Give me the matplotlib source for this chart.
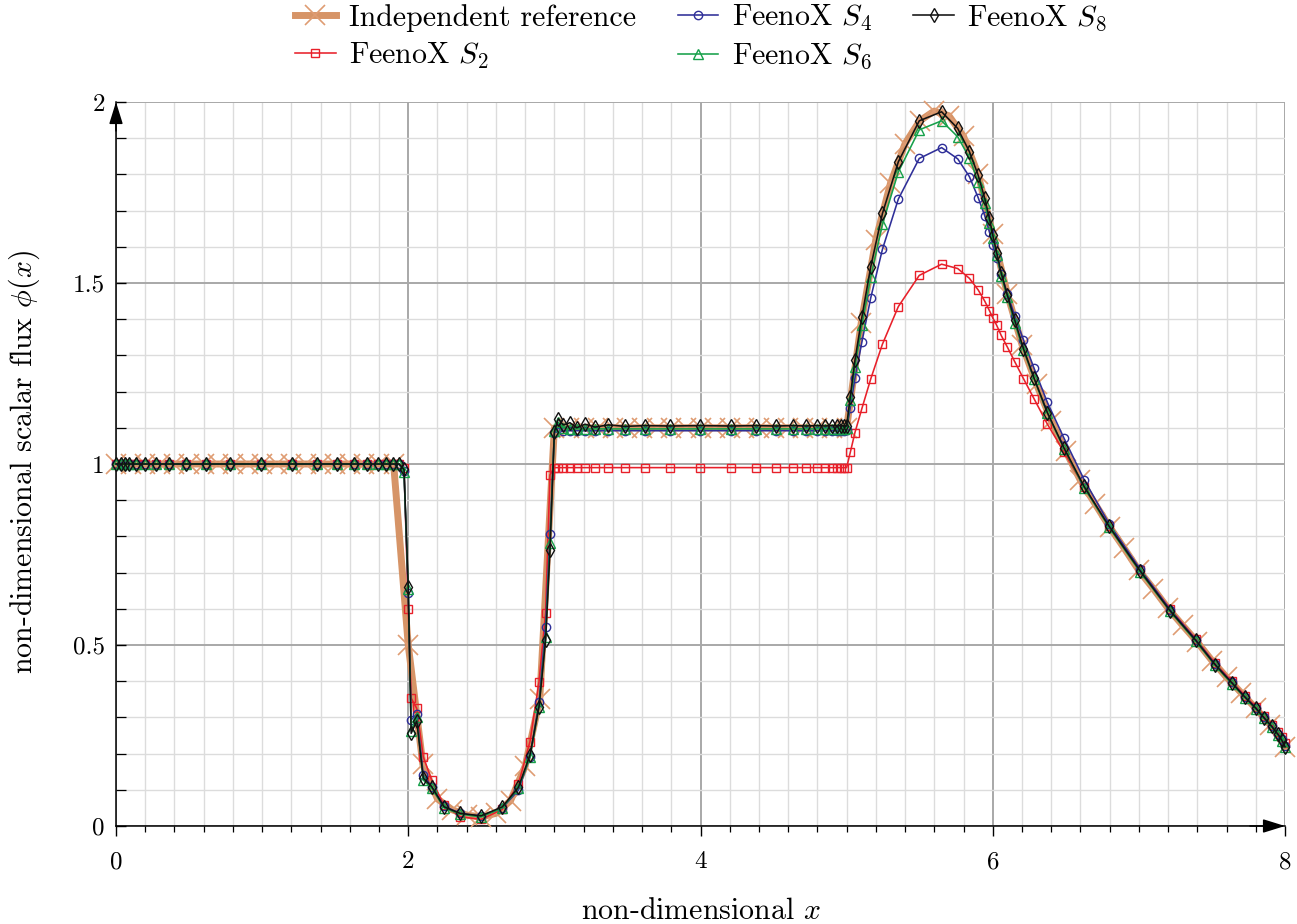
import matplotlib
matplotlib.use("Agg")
import matplotlib.pyplot as plt
from matplotlib.ticker import MultipleLocator, FuncFormatter


REF_COLOR = '#d69467'
REF_MARKER_COLOR = '#df9c73'
S2_COLOR = '#e8202a'
S4_COLOR = '#2e2e98'
S6_COLOR = '#16a04a'
S8_COLOR = '#111111'
MAJOR_GRID = '#a8a8a8'
MINOR_GRID = '#dcdcdc'

# independent reference, sampled every 0.1
ref_x = [0.0, 0.1, 0.2, 0.3, 0.4, 0.5, 0.6, 0.7, 0.8, 0.9,
         1.0, 1.1, 1.2, 1.3, 1.4, 1.5, 1.6, 1.7, 1.8, 1.9,
         2.0, 2.1, 2.2, 2.3, 2.4, 2.5, 2.6, 2.7, 2.8, 2.9,
         3.0, 3.1, 3.2, 3.3, 3.4, 3.5, 3.6, 3.7, 3.8, 3.9,
         4.0, 4.1, 4.2, 4.3, 4.4, 4.5, 4.6, 4.7, 4.8, 4.9,
         5.0, 5.1, 5.2, 5.3, 5.4, 5.5, 5.6, 5.7, 5.8, 5.9,
         6.0, 6.1, 6.2, 6.3, 6.4, 6.5, 6.6, 6.7, 6.8, 6.9,
         7.0, 7.1, 7.2, 7.3, 7.4, 7.5, 7.6, 7.7, 7.8, 7.9, 8.0]
ref_phi = [1.0, 1.0, 1.0, 1.0, 1.0, 1.0, 1.0, 1.0, 1.0, 1.0,
           1.0, 1.0, 1.0, 1.0, 1.0, 1.0, 1.0, 1.0, 1.0, 1.0,
           0.50, 0.17, 0.075, 0.045, 0.03, 0.025, 0.035, 0.07, 0.165, 0.35,
           1.10, 1.10, 1.10, 1.10, 1.10, 1.10, 1.10, 1.10, 1.10, 1.10,
           1.10, 1.10, 1.10, 1.10, 1.10, 1.10, 1.10, 1.10, 1.10, 1.10,
           1.10, 1.39, 1.62, 1.775, 1.885, 1.948, 1.975, 1.962, 1.905, 1.80,
           1.635, 1.47, 1.33, 1.22, 1.12, 1.035, 0.955, 0.89, 0.826, 0.767,
           0.706, 0.655, 0.601, 0.554, 0.508, 0.457, 0.411, 0.368, 0.325, 0.279, 0.219]

# FeenoX mesh nodes
feenox_x = [0.000, 0.032, 0.062, 0.091, 0.137, 0.198, 0.274, 0.362, 0.477, 0.614,
            0.780, 0.993, 1.202, 1.373, 1.514, 1.629, 1.715, 1.791, 1.848, 1.898,
            1.937, 1.971, 2.000,
            2.020, 2.058, 2.103, 2.160, 2.245, 2.354, 2.498, 2.644, 2.754, 2.833,
            2.895, 2.940, 2.970, 3.000,
            3.027, 3.061, 3.107, 3.153, 3.210, 3.278, 3.369, 3.483, 3.620, 3.790,
            3.997, 4.207, 4.380, 4.517, 4.631, 4.722, 4.795, 4.852, 4.898, 4.932,
            4.960, 4.985, 5.000,
            5.025, 5.057, 5.105, 5.165, 5.245, 5.354, 5.497, 5.650, 5.760, 5.840,
            5.900, 5.945, 5.977, 6.000,
            6.027, 6.058, 6.100, 6.150, 6.210, 6.283, 6.374, 6.488, 6.625, 6.796,
            7.008, 7.213, 7.389, 7.521, 7.635, 7.726, 7.799, 7.856, 7.909, 7.950,
            7.977, 8.000]

phi_s2 = [1.0, 1.0, 1.0, 1.0, 1.0, 1.0, 1.0, 1.0, 1.0, 1.0,
          1.0, 1.0, 1.0, 1.0, 1.0, 1.0, 1.0, 1.0, 1.0, 1.0,
          1.0, 0.99, 0.60,
          0.353, 0.325, 0.191, 0.127, 0.058, 0.026, 0.018, 0.046, 0.116, 0.233,
          0.399, 0.589, 0.97, 0.99,
          0.99, 0.99, 0.99, 0.99, 0.99, 0.99, 0.99, 0.99, 0.99, 0.99,
          0.99, 0.99, 0.99, 0.99, 0.99, 0.99, 0.99, 0.99, 0.99, 0.99,
          0.99, 0.99, 0.99,
          1.032, 1.087, 1.154, 1.235, 1.331, 1.435, 1.521, 1.552, 1.540, 1.513,
          1.481, 1.450, 1.424, 1.404,
          1.383, 1.355, 1.323, 1.283, 1.236, 1.180, 1.110, 1.033, 0.937, 0.828,
          0.708, 0.600, 0.517, 0.450, 0.400, 0.360, 0.330, 0.304, 0.280, 0.260,
          0.245, 0.228]

phi_s4 = [1.0, 1.0, 1.0, 1.0, 1.0, 1.0, 1.0, 1.0, 1.0, 1.0,
          1.0, 1.0, 1.0, 1.0, 1.0, 1.0, 1.0, 1.0, 1.0, 1.0,
          1.0, 0.98, 0.643,
          0.293, 0.309, 0.141, 0.109, 0.055, 0.035, 0.027, 0.050, 0.099, 0.191,
          0.343, 0.551, 0.806, 1.085,
          1.100, 1.092, 1.092, 1.092, 1.092, 1.092, 1.092, 1.092, 1.092, 1.092,
          1.092, 1.092, 1.092, 1.092, 1.092, 1.092, 1.092, 1.092, 1.092, 1.092,
          1.092, 1.092, 1.095,
          1.156, 1.237, 1.338, 1.459, 1.593, 1.732, 1.844, 1.874, 1.843, 1.794,
          1.736, 1.686, 1.642, 1.605,
          1.570, 1.525, 1.470, 1.410, 1.343, 1.264, 1.170, 1.071, 0.957, 0.835,
          0.710, 0.598, 0.515, 0.447, 0.397, 0.357, 0.327, 0.300, 0.276, 0.255,
          0.239, 0.220]

phi_s6 = [1.0, 1.0, 1.0, 1.0, 1.0, 1.0, 1.0, 1.0, 1.0, 1.0,
          1.0, 1.0, 1.0, 1.0, 1.0, 1.0, 1.0, 1.0, 1.0, 1.0,
          1.0, 0.979, 0.655,
          0.263, 0.302, 0.127, 0.105, 0.050, 0.033, 0.025, 0.050, 0.105, 0.190,
          0.330, 0.521, 0.781, 1.090,
          1.115, 1.100, 1.097, 1.097, 1.097, 1.097, 1.097, 1.097, 1.097, 1.097,
          1.097, 1.097, 1.097, 1.097, 1.097, 1.097, 1.097, 1.097, 1.097, 1.097,
          1.097, 1.097, 1.100,
          1.177, 1.269, 1.384, 1.517, 1.662, 1.807, 1.923, 1.948, 1.904, 1.846,
          1.780, 1.720, 1.665, 1.623,
          1.577, 1.520, 1.460, 1.390, 1.315, 1.235, 1.140, 1.042, 0.935, 0.825,
          0.702, 0.593, 0.510, 0.444, 0.393, 0.354, 0.323, 0.297, 0.273, 0.252,
          0.236, 0.217]

phi_s8 = [1.0, 1.0, 1.0, 1.0, 1.0, 1.0, 1.0, 1.0, 1.0, 1.0,
          1.0, 1.0, 1.0, 1.0, 1.0, 1.0, 1.0, 1.0, 1.0, 1.0,
          1.0, 0.985, 0.661,
          0.256, 0.290, 0.132, 0.109, 0.053, 0.035, 0.028, 0.053, 0.107, 0.196,
          0.330, 0.514, 0.762, 1.089,
          1.125, 1.108, 1.114, 1.100, 1.110, 1.102, 1.108, 1.104, 1.106, 1.105,
          1.106, 1.105, 1.106, 1.105, 1.106, 1.105, 1.106, 1.105, 1.106, 1.105,
          1.106, 1.105, 1.105,
          1.186, 1.287, 1.407, 1.545, 1.692, 1.835, 1.948, 1.973, 1.927, 1.863,
          1.798, 1.734, 1.679, 1.633,
          1.584, 1.528, 1.466, 1.398, 1.319, 1.237, 1.142, 1.044, 0.938, 0.828,
          0.705, 0.595, 0.513, 0.446, 0.396, 0.356, 0.326, 0.299, 0.275, 0.254,
          0.238, 0.219]

FEENOX_SERIES = (
    (r'FeenoX $S_2$', phi_s2, S2_COLOR, 's', 6.0),
    (r'FeenoX $S_4$', phi_s4, S4_COLOR, 'o', 6.0),
    (r'FeenoX $S_6$', phi_s6, S6_COLOR, '^', 7.0),
    (r'FeenoX $S_8$', phi_s8, S8_COLOR, 'd', 7.5),
)

plt.rcParams['font.family'] = 'serif'
plt.rcParams['font.serif'] = ['cmr10']
plt.rcParams['mathtext.fontset'] = 'cm'
plt.rcParams['axes.unicode_minus'] = False
plt.rcParams['axes.formatter.use_mathtext'] = True

fig = plt.figure(figsize=(12.97, 9.24), dpi=100)
ax = fig.add_axes([116 / 1297, 98 / 924, 1169 / 1297, 724 / 924])

ax.plot(ref_x, ref_phi, color=REF_COLOR, linewidth=5.0, marker='x', markersize=15,
        markeredgewidth=1.2, markeredgecolor=REF_MARKER_COLOR,
        label='Independent reference', clip_on=False, zorder=3)

for label, values, color, marker, size in FEENOX_SERIES:
    ax.plot(feenox_x, values, color=color, linewidth=1.15, marker=marker, markersize=size,
            markerfacecolor='none', markeredgecolor=color, markeredgewidth=1.0,
            label=label, clip_on=False, zorder=4)

ax.set_xlim(0, 8)
ax.set_ylim(0, 2)
ax.xaxis.set_major_locator(MultipleLocator(2))
ax.xaxis.set_minor_locator(MultipleLocator(0.2))
ax.yaxis.set_major_locator(MultipleLocator(0.5))
ax.yaxis.set_minor_locator(MultipleLocator(0.1))
fmt = FuncFormatter(lambda v, pos: f"{v:g}")
ax.xaxis.set_major_formatter(fmt)
ax.yaxis.set_major_formatter(fmt)

ax.grid(True, which='major', color=MAJOR_GRID, linewidth=1.4, zorder=0)
ax.grid(True, which='minor', color=MINOR_GRID, linewidth=1.0, zorder=0)
ax.set_axisbelow(True)

ax.tick_params(axis='x', which='major', direction='out', length=7, width=1.0, pad=11, labelsize=18)
ax.tick_params(axis='x', which='minor', direction='out', length=4.5, width=0.9)
ax.tick_params(axis='y', which='major', direction='in', length=7, width=1.0, pad=8, labelsize=18)
ax.tick_params(axis='y', which='minor', direction='in', length=7, width=0.9)

for side in ('top', 'right'):
    ax.spines[side].set_visible(False)
for side in ('left', 'bottom'):
    ax.spines[side].set_linewidth(1.1)
    ax.spines[side].set_color('black')

arrow = dict(arrowstyle='-|>,head_length=0.9,head_width=0.28', color='black',
             lw=1.1, shrinkA=0, shrinkB=0, mutation_scale=15)
ax.annotate('', xy=(1.0, 0.0), xytext=(0.97, 0.0), xycoords='axes fraction',
            arrowprops=arrow, zorder=6)
ax.annotate('', xy=(0.0, 1.0), xytext=(0.0, 0.96), xycoords='axes fraction',
            arrowprops=arrow, zorder=6)

fig.text(0.5 * (116 + 1285) / 1297, 1 - 911 / 924, r'non-dimensional $x$',
         ha='center', va='center', fontsize=21.5)
fig.text(24 / 1297, 1 - 462 / 924, r'non-dimensional scalar flux $\phi(x)$',
         ha='center', va='center', rotation=90, fontsize=21.5)

handles, labels = ax.get_legend_handles_labels()
fig.legend(handles, labels, loc='upper center', bbox_to_anchor=(0.5405, 1.026), ncol=3,
           frameon=False, fontsize=21.5, handlelength=1.35, handletextpad=0.45,
           columnspacing=1.4, labelspacing=0.3)

fig.savefig('out.png', dpi=100)
